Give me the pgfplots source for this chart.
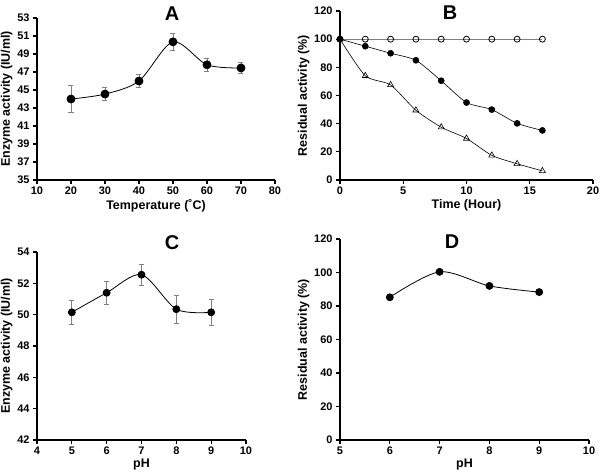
\documentclass[border=0pt]{standalone}
\usepackage{fontspec}
\setmainfont{Liberation Sans}
\usepackage{pgfplots}
\pgfplotsset{compat=1.18}
\pgfplotsset{
 prism/.style={
   scale only axis,
   anchor=south west,
   axis x line*=bottom, axis y line*=left,
   axis line style={line width=1.3bp},
   tick align=outside, major tick length=4bp,
   tick style={line width=1.3bp, black},
   ticklabel style={font=\bfseries\fontsize{11}{13}\selectfont},
   xticklabel style={yshift=1bp},
   /pgf/number format/assume math mode=true,
   label style={font=\bfseries\fontsize{12.5}{14}\selectfont},
   ylabel shift=-2bp,
   xlabel shift=-2bp,
   minor tick num=0,
   clip=false,
 },
 ebar/.style={error bars/.cd, y dir=both, y explicit,
   error bar style={gray, line width=0.8bp},
   error mark options={gray, rotate=90, mark size=2.5bp, line width=0.8bp}},
}
\begin{document}
\begin{tikzpicture}
\path[use as bounding box] (0,0) rectangle (600bp,-474bp);
% Panel A
\begin{axis}[prism, at={(37bp,-180bp)}, width=238bp, height=162bp,
  xmin=10, xmax=80, ymin=35, ymax=53,
  xtick={10,20,...,80}, ytick={35,37,...,53},
  xlabel={Temperature (˚C)}, ylabel={Enzyme activity (IU/ml)}]
\addplot[black, line width=0.8bp, smooth, mark=*, mark size=4bp, mark options={solid, fill=black}, ebar]
  coordinates {(20,44.0) +- (0,1.5) (30,44.55) +- (0,0.75) (40,46.0) +- (0,0.7)
               (50,50.35) +- (0,0.9) (60,47.8) +- (0,0.7) (70,47.45) +- (0,0.65)};
\end{axis}
% Panel B
\begin{axis}[prism, at={(340bp,-180bp)}, width=253bp, height=169bp,
  xmin=0, xmax=20, ymin=0, ymax=120,
  xtick={0,5,...,20}, ytick={0,20,...,120},
  xlabel={Time (Hour)}, ylabel={Residual activity (\%)}]
\addplot[gray, line width=0.8bp, mark=o, mark size=3bp, mark options={solid, draw=black, fill=white}]
  coordinates {(0,100) (2,100) (4,100) (6,100) (8,100) (10,100) (12,100) (14,100) (16,100)};
\addplot[black, line width=0.6bp, smooth, tension=0.4, mark=*, mark size=3bp, mark options={solid, fill=black}]
  coordinates {(0,100) (2,95) (4,90) (6,85) (8,70.5) (10,55) (12,50) (14,40.2) (16,35.2)};
\addplot[black, line width=0.6bp, smooth, tension=0.4, mark=triangle, mark size=3.5bp, mark options={solid, fill=white}]
  coordinates {(0,100) (2,74) (4,67.5) (6,49.5) (8,37.5) (10,29.5) (12,17.5) (14,11.5) (16,6.5)};
\end{axis}
% Panel C
\begin{axis}[prism, at={(37bp,-440bp)}, width=209bp, height=188bp,
  xmin=4, xmax=10, ymin=42, ymax=54,
  xtick={4,5,...,10}, ytick={42,44,...,54},
  xlabel={pH}, ylabel={Enzyme activity (IU/ml)}]
\addplot[black, line width=0.8bp, smooth, mark=*, mark size=3.5bp, mark options={solid, fill=black}, ebar]
  coordinates {(5,50.15) +- (0,0.75) (6,51.4) +- (0,0.75) (7,52.55) +- (0,0.67)
               (8,50.35) +- (0,0.88) (9,50.15) +- (0,0.83)};
\end{axis}
% Panel D
\begin{axis}[prism, at={(340bp,-440bp)}, width=249bp, height=201bp,
  xmin=5, xmax=10, ymin=0, ymax=120,
  xtick={5,6,...,10}, ytick={0,20,...,120},
  xlabel={pH}, ylabel={Residual activity (\%)}]
\addplot[black, line width=0.8bp, smooth, mark=*, mark size=3.5bp, mark options={solid, fill=black}]
  coordinates {(6,85.2) (7,100.4) (8,92) (9,88.3)};
\end{axis}
\node[font=\bfseries\fontsize{20}{22}\selectfont] at (172bp,-14bp) {A};
\node[font=\bfseries\fontsize{20}{22}\selectfont] at (450bp,-13bp) {B};
\node[font=\bfseries\fontsize{20}{22}\selectfont] at (172bp,-243bp) {C};
\node[font=\bfseries\fontsize{20}{22}\selectfont] at (452bp,-242bp) {D};
\end{tikzpicture}
\end{document}
